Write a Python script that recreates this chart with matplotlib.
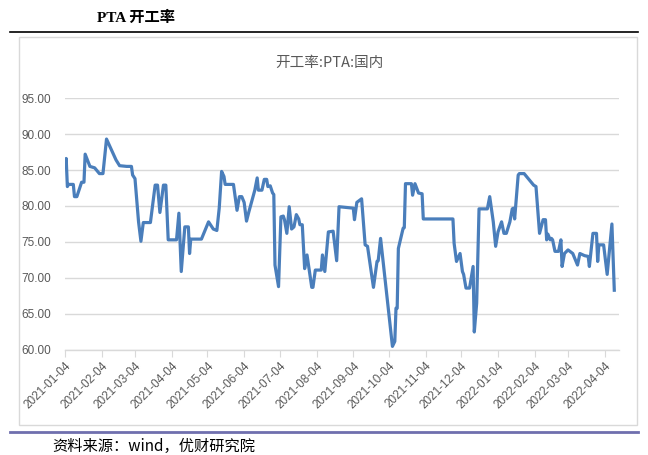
import matplotlib
matplotlib.use("Agg")
import matplotlib.pyplot as plt
import matplotlib.dates as mdates
import pandas as pd
from matplotlib.patches import Rectangle
from matplotlib.lines import Line2D

plt.rcParams['font.family'] = ['Liberation Sans', 'Noto Sans CJK SC']

# PTA 开工率 (国内)
dates = [
    "2021-01-04", "2021-01-05", "2021-01-06", "2021-01-07", "2021-01-11", "2021-01-12",
    "2021-01-14", "2021-01-18", "2021-01-20", "2021-01-21", "2021-01-25", "2021-01-29",
    "2021-02-02", "2021-02-05", "2021-02-08", "2021-02-16", "2021-02-19", "2021-02-25",
    "2021-03-01", "2021-03-02", "2021-03-04", "2021-03-07", "2021-03-09", "2021-03-11",
    "2021-03-17", "2021-03-21", "2021-03-23", "2021-03-25", "2021-03-28", "2021-03-30",
    "2021-04-01", "2021-04-08", "2021-04-10", "2021-04-12", "2021-04-15", "2021-04-18",
    "2021-04-19", "2021-04-20", "2021-04-29", "2021-05-05", "2021-05-09", "2021-05-12",
    "2021-05-14", "2021-05-16", "2021-05-18", "2021-05-19", "2021-05-26", "2021-05-29",
    "2021-05-31", "2021-06-02", "2021-06-04", "2021-06-06", "2021-06-08", "2021-06-13",
    "2021-06-15", "2021-06-16", "2021-06-19", "2021-06-21", "2021-06-23", "2021-06-24",
    "2021-06-26", "2021-06-28", "2021-06-29", "2021-06-30", "2021-07-03", "2021-07-05",
    "2021-07-07", "2021-07-08", "2021-07-10", "2021-07-12", "2021-07-14", "2021-07-16",
    "2021-07-18", "2021-07-20", "2021-07-21", "2021-07-23", "2021-07-25", "2021-07-27",
    "2021-07-31", "2021-08-01", "2021-08-03", "2021-08-08", "2021-08-09", "2021-08-11",
    "2021-08-14", "2021-08-18", "2021-08-21", "2021-08-23", "2021-09-04", "2021-09-05",
    "2021-09-07", "2021-09-11", "2021-09-14", "2021-09-16", "2021-09-21", "2021-09-24",
    "2021-09-25", "2021-09-27", "2021-10-07", "2021-10-09", "2021-10-10", "2021-10-11",
    "2021-10-12", "2021-10-16", "2021-10-17", "2021-10-18", "2021-10-23", "2021-10-24",
    "2021-10-26", "2021-10-29", "2021-11-01", "2021-11-02", "2021-11-27", "2021-11-28",
    "2021-11-30", "2021-12-03", "2021-12-05", "2021-12-06", "2021-12-08", "2021-12-11",
    "2021-12-14", "2021-12-15", "2021-12-17", "2021-12-19", "2021-12-26", "2021-12-28",
    "2021-12-31", "2022-01-02", "2022-01-04", "2022-01-07", "2022-01-09", "2022-01-11",
    "2022-01-14", "2022-01-16", "2022-01-17", "2022-01-18", "2022-01-21", "2022-01-22",
    "2022-01-26", "2022-02-03", "2022-02-05", "2022-02-08", "2022-02-11", "2022-02-13",
    "2022-02-14", "2022-02-15", "2022-02-17", "2022-02-18", "2022-02-19", "2022-02-21",
    "2022-02-24", "2022-02-26", "2022-02-27", "2022-03-01", "2022-03-04", "2022-03-08",
    "2022-03-12", "2022-03-14", "2022-03-18", "2022-03-21", "2022-03-22", "2022-03-25",
    "2022-03-28", "2022-03-29", "2022-03-30", "2022-04-03", "2022-04-06", "2022-04-10",
    "2022-04-12",
]
values = [
    85.5, 86.6, 82.7, 83.0, 83.0, 81.3,
    81.3, 83.3, 83.3, 87.2, 85.5, 85.3,
    84.5, 84.5, 89.3, 86.4, 85.6, 85.5,
    85.5, 84.3, 83.8, 77.8, 75.1, 77.7,
    77.7, 82.9, 82.9, 79.1, 82.9, 82.9,
    75.3, 75.3, 79.0, 70.9, 77.1, 77.1,
    73.4, 75.4, 75.4, 77.8, 76.8, 76.6,
    79.7, 84.8, 84.1, 83.0, 83.0, 79.4,
    81.3, 81.3, 80.5, 77.9, 79.2, 82.2,
    83.9, 82.2, 82.2, 83.7, 83.7, 82.7,
    82.8, 81.8, 81.6, 71.8, 68.8, 78.5,
    78.6, 78.1, 76.2, 79.9, 76.8, 77.1,
    78.8, 78.2, 77.4, 77.4, 71.3, 73.2,
    68.7, 68.7, 71.1, 71.1, 73.2, 70.9,
    76.4, 76.5, 72.4, 79.9, 79.7, 78.1,
    80.5, 81.0, 74.6, 74.4, 68.7, 72.3,
    72.4, 75.5, 60.5, 61.2, 65.8, 65.8,
    74.1, 76.9, 77.0, 83.1, 83.1, 81.5,
    83.1, 81.8, 81.7, 78.2, 78.2, 74.8,
    72.3, 73.4, 70.9, 70.5, 68.6, 68.6,
    71.6, 62.5, 66.5, 79.6, 79.6, 81.3,
    77.8, 74.4, 76.4, 77.8, 76.2, 76.2,
    77.8, 79.6, 79.7, 78.2, 84.3, 84.5,
    84.5, 82.9, 82.7, 76.2, 78.1, 78.1,
    75.3, 76.1, 75.3, 75.5, 75.3, 73.7,
    73.7, 75.3, 71.6, 73.4, 73.9, 73.4,
    71.8, 73.4, 73.1, 73.0, 71.6, 76.2,
    76.2, 72.3, 74.6, 74.6, 70.5, 77.5,
    68.3,
]
y_ticks = [60, 65, 70, 75, 80, 85, 90, 95]

x = pd.to_datetime(dates)

fig = plt.figure(figsize=(6.48, 4.55), dpi=100)

# outer frame of the chart
fig.add_artist(Rectangle((0.0293, 0.0659), 0.9537, 0.8527, transform=fig.transFigure,
                         fill=False, edgecolor='#d9d9d9', linewidth=1.0))
# header / footer rules
fig.add_artist(Line2D([0.016, 0.985], [0.929, 0.929], transform=fig.transFigure,
                      color='black', linewidth=1.2))
fig.add_artist(Line2D([0.016, 0.985], [0.050, 0.050], transform=fig.transFigure,
                      color='#6f6fae', linewidth=2.0))

fig.text(0.150, 0.960, 'PTA 开工率', fontsize=11, fontweight='bold',
         family=['Liberation Serif', 'Noto Sans CJK SC'], ha='left', va='center')
fig.text(0.080, 0.018, '资料来源：wind，优财研究院', fontsize=11,
         family=['Noto Sans CJK SC'], ha='left', va='center')

ax = fig.add_axes([0.1003, 0.2308, 0.855, 0.5538])
ax.plot(x, values, color='#4a7ebb', linewidth=2.3, solid_joinstyle='round')

ax.set_ylim(60, 95)
ax.set_yticks(y_ticks)
ax.set_yticklabels([f'{v:.2f}' for v in y_ticks])
ax.set_xlim(pd.Timestamp('2021-01-04'), pd.Timestamp('2022-04-16'))
ax.xaxis.set_major_locator(mdates.MonthLocator(bymonthday=4))
ax.xaxis.set_major_formatter(mdates.DateFormatter('%Y-%m-%d'))

ax.grid(axis='y', color='#d9d9d9', linewidth=1.0)
ax.set_axisbelow(True)
for s in ['top', 'right', 'left']:
    ax.spines[s].set_visible(False)
ax.spines['bottom'].set_color('#d9d9d9')
ax.spines['bottom'].set_linewidth(1.0)

ax.tick_params(axis='y', length=0, labelsize=8.5, labelcolor='#595959', pad=10)
ax.tick_params(axis='x', length=5, color='#d9d9d9', labelsize=8.5, labelcolor='#595959', pad=2)
for lbl in ax.get_xticklabels():
    lbl.set_rotation(45)
    lbl.set_ha('right')
    lbl.set_va('top')
    lbl.set_rotation_mode('anchor')

fig.text(0.508, 0.861, '开工率:PTA:国内', fontsize=10.5, color='#595959',
         family=['Noto Sans CJK SC', 'Liberation Sans'], ha='center', va='center')

fig.savefig('out.png', dpi=100)
